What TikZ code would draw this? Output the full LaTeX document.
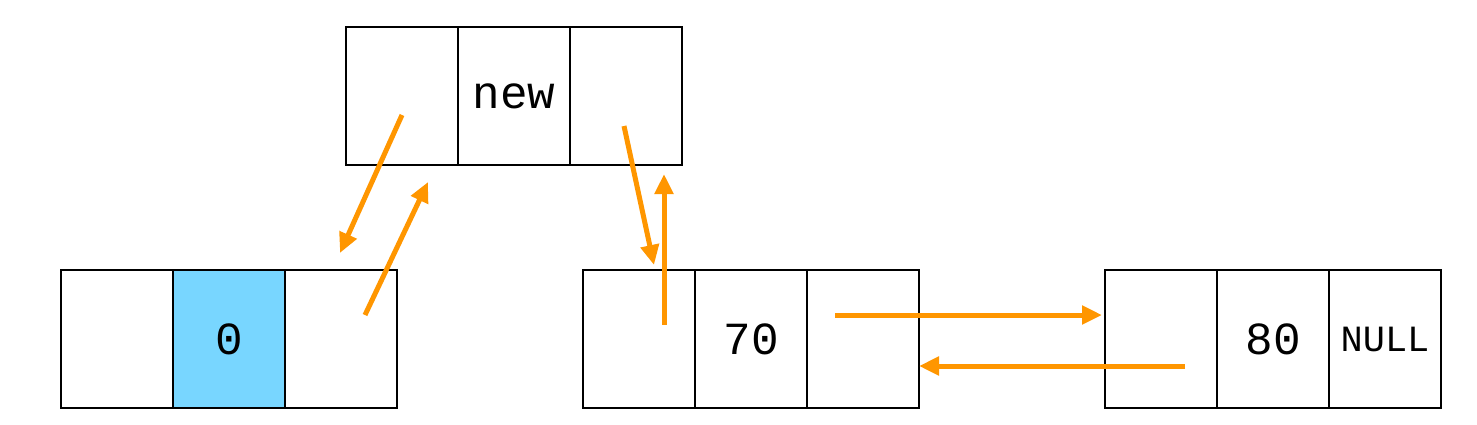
\documentclass[tikz,border=0pt]{standalone}
\usepackage{fontspec}
\setmonofont{Liberation Mono}
\usetikzlibrary{positioning}
\usetikzlibrary{arrows.meta}
\definecolor{arrorange}{RGB}{255,150,0}
\definecolor{cellblue}{RGB}{120,214,255}
\tikzset{
  cell/.style={draw,line width=2pt,minimum width=112pt,minimum height=138pt,inner sep=0pt,
    font=\ttfamily\fontsize{46}{46}\selectfont},
  link/.style={draw=arrorange,line width=5pt,-{Triangle[length=20pt,width=18pt]}}
}
\begin{document}
\begin{tikzpicture}[x=1pt,y=-1pt]
  \useasboundingbox (0,0) rectangle (1477,424);
  % new node
  \node[cell] (nprev) at (402,96) {};
  \node[cell,right=-2pt of nprev] (ndata) {new};
  \node[cell,right=-2pt of ndata] (nnext) {};
  % first node
  \node[cell] (aprev) at (117,339) {};
  \node[cell,fill=cellblue,right=-2pt of aprev] (adata) {0};
  \node[cell,right=-2pt of adata] (anext) {};
  % second node
  \node[cell] (bprev) at (639,339) {};
  \node[cell,right=-2pt of bprev] (bdata) {70};
  \node[cell,right=-2pt of bdata] (bnext) {};
  % third node
  \node[cell] (cprev) at (1161,339) {};
  \node[cell,right=-2pt of cprev] (cdata) {80};
  \node[cell,right=-2pt of cdata,font=\ttfamily\fontsize{37}{37}\selectfont] (cnext) {NULL};
  % links
  \coordinate (p1) at (402,115);  \coordinate (q1) at (340,253);
  \coordinate (p2) at (365,315);  \coordinate (q2) at (428,182);
  \coordinate (p3) at (624,126);  \coordinate (q3) at (654,265);
  \coordinate (p4) at (664,325);  \coordinate (q4) at (664,174);
  \coordinate (p5) at (835,315);  \coordinate (q5) at (1102,315);
  \coordinate (p6) at (1185,366); \coordinate (q6) at (919,366);
  \foreach \i in {1,...,6}
    \draw[link] (p\i) -- (q\i);
\end{tikzpicture}
\end{document}
